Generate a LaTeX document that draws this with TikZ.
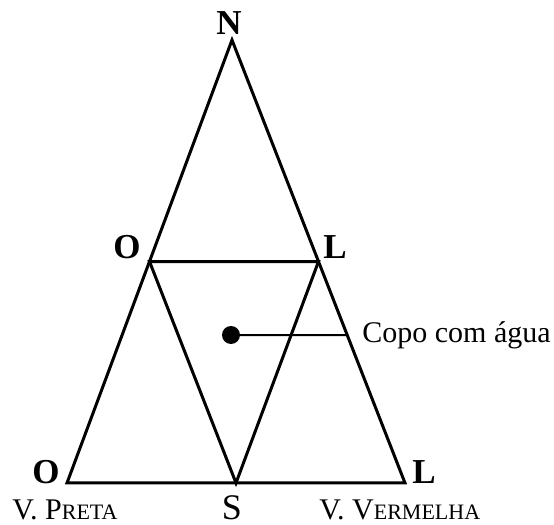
\documentclass[tikz,border=0pt]{standalone}
\usepackage{fontspec}
\setmainfont{Liberation Serif}
\usetikzlibrary{calc}
\newcommand{\fsc}[2]{#1{\fontsize{11}{12}\selectfont #2}}
\tikzset{
  side/.style={draw=black,line width=1.5pt,line join=miter},
  pole/.style={font=\fontsize{17.5}{18}\selectfont\bfseries,inner sep=0pt},
  south/.style={font=\fontsize{18}{20}\selectfont,inner sep=0pt},
  vase/.style={font=\fontsize{15}{16}\selectfont,inner sep=0pt},
  cup/.style={circle,fill=black,inner sep=0pt,minimum size=9pt},
  pointer/.style={draw=black,line width=1pt},
}
\begin{document}
\begin{tikzpicture}[x=0.5pt,y=-0.5pt]
  \useasboundingbox (0,0) rectangle (554,525);
  % vertices
  \coordinate (N) at (232,40);
  \coordinate (Obot) at (67,483);
  \coordinate (Lbot) at (405,483);
  \coordinate (Omid) at ($(N)!.5!(Obot)$);
  \coordinate (Lmid) at ($(N)!.5!(Lbot)$);
  \coordinate (S) at ($(Obot)!.5!(Lbot)$);
  \coordinate (rim) at ($(N)!.666!(Lbot)$);
  % triangles
  \draw[side] (N) -- (Obot) -- (Lbot) -- cycle;
  \draw[side] (Omid) -- (Lmid) -- (S) -- cycle;
  % labels
  \node[pole] (tN) at (229,23) {N};
  \node[pole] (tOm) at (127,247) {O};
  \node[pole] (tLm) at (335,247) {L};
  \node[pole] (tOb) at (46,472) {O};
  \node[pole] (tLb) at (424,472) {L};
  \node[south,anchor=base] (tS) at (232,520) {S};
  \node[vase,anchor=base west] (preta) at (12,520) {\fsc{V. P}{RETA}};
  \node[vase,anchor=base west] (verm) at (319,520) {\fsc{V. V}{ERMELHA}};
  % glass of water
  \node[cup] (glass) at (231,335) {};
  \draw[pointer] (glass.center) -- (rim);
  \node[vase,anchor=west] (copo) at (362,335) {Copo com água};
\end{tikzpicture}
\end{document}
